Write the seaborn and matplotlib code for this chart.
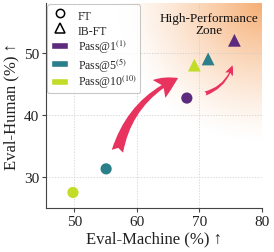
import numpy as np
import pandas as pd
import matplotlib
matplotlib.use("Agg")
import matplotlib.pyplot as plt
import seaborn as sns
from matplotlib.lines import Line2D
from matplotlib.patches import Patch, Rectangle
from matplotlib.legend_handler import HandlerPatch

methods = ["FT", "FT", "FT", "IB-FT", "IB-FT", "IB-FT"]
metrics = ["Pass@1", "Pass@5", "Pass@10", "Pass@1", "Pass@5", "Pass@10"]
eval_machine = [68.0, 55.1, 49.8, 75.6, 71.4, 69.2]
eval_human = [42.7, 31.3, 27.5, 52.0, 49.0, 48.0]
xticks = [50, 60, 70, 80]
yticks = [30, 40, 50]
legend_labels = ["FT", "IB-FT", r"Pass@1$^{(1)}$", r"Pass@5$^{(5)}$", r"Pass@10$^{(10)}$"]

palette = {"Pass@1": "#5D2B7D", "Pass@5": "#2A7F8B", "Pass@10": "#C3DC28"}
arrow_color = "#E8335F"

df = pd.DataFrame({"Method": methods, "Metric": metrics,
                   "Eval-Machine": eval_machine, "Eval-Human": eval_human})

sns.set_theme(style="white")
plt.rcParams["font.family"] = ["Liberation Serif", "DejaVu Serif"]
plt.rcParams["mathtext.fontset"] = "stix"

fig = plt.figure(figsize=(2.74, 2.53), dpi=100)
ax = fig.add_axes([0.168, 0.174, 0.788, 0.81])

xlim = (45.5, 80)
ylim = (25, 58)
ax.set_xlim(*xlim)
ax.set_ylim(*ylim)

# radial orange gradient from top-right corner
nx, ny = 300, 300
gx = np.linspace(0, 1, nx)
gy = np.linspace(0, 1, ny)
GX, GY = np.meshgrid(gx, gy)
dist = np.sqrt(((1 - GX) * 1.0) ** 2 + ((1 - GY) * 1.0) ** 2)
alpha = np.clip(1 - dist / 0.68, 0, 1) ** 1.3 * 0.9
rgba = np.zeros((ny, nx, 4))
rgba[..., 0] = 245 / 255
rgba[..., 1] = 165 / 255
rgba[..., 2] = 100 / 255
rgba[..., 3] = alpha
ax.imshow(rgba, extent=[xlim[0], xlim[1], ylim[0], ylim[1]], origin="lower",
          aspect="auto", zorder=0, interpolation="bilinear")

ax.set_xticks(xticks)
ax.set_yticks(yticks)
ax.grid(True, color="#cccccc", linestyle=(0, (2, 2)), linewidth=0.5, zorder=0.5)
ax.set_axisbelow(True)

sns.scatterplot(data=df[df.Method == "FT"], x="Eval-Machine", y="Eval-Human",
                hue="Metric", palette=palette, marker="o", s=65,
                edgecolor="none", legend=False, ax=ax, zorder=3)
sns.scatterplot(data=df[df.Method == "IB-FT"], x="Eval-Machine", y="Eval-Human",
                hue="Metric", palette=palette, marker="^", s=85,
                edgecolor="none", legend=False, ax=ax, zorder=3)

ax.annotate("", xy=(67.0, 46.1), xytext=(56.8, 33.7),
            arrowprops=dict(arrowstyle="fancy,head_length=0.75,head_width=0.75,tail_width=0.4",
                            connectionstyle="arc3,rad=-0.25", color=arrow_color, lw=0,
                            mutation_scale=21), zorder=2)
ax.annotate("", xy=(75.4, 48.4), xytext=(70.5, 43.3),
            arrowprops=dict(arrowstyle="fancy,head_length=0.7,head_width=0.6,tail_width=0.3",
                            connectionstyle="arc3,rad=0.3", color=arrow_color, lw=0,
                            mutation_scale=10), zorder=2)

ax.text(71.6, 54.7, "High-Performance\nZone", ha="center", va="center",
        fontsize=9.5, linespacing=1.0, color="#111111", zorder=4)

for s in ["top", "right"]:
    ax.spines[s].set_visible(False)
for s in ["left", "bottom"]:
    ax.spines[s].set_color("#444444")
    ax.spines[s].set_linewidth(0.8)
ax.tick_params(axis="both", which="major", length=3, width=0.8, color="#444444",
               labelsize=11, pad=2, left=True, bottom=True)
for lab in ax.get_xticklabels() + ax.get_yticklabels():
    lab.set_color("#222222")

ax.set_xlabel("Eval-Machine (%) ↑", fontsize=12, labelpad=2, color="#222222")
ax.set_ylabel("Eval-Human (%) ↑", fontsize=12, labelpad=3, color="#222222")


def make_rect(legend, orig_handle, xdescent, ydescent, width, height, fontsize):
    h = 0.6 * fontsize
    return Rectangle((-xdescent, -ydescent + (height - h) / 2), width, h)


handles = [
    Line2D([], [], marker="o", linestyle="none", markerfacecolor="white",
           markeredgecolor="black", markersize=6, markeredgewidth=1.1),
    Line2D([], [], marker="^", linestyle="none", markerfacecolor="white",
           markeredgecolor="black", markersize=7, markeredgewidth=1.1),
    Patch(facecolor=palette["Pass@1"]),
    Patch(facecolor=palette["Pass@5"]),
    Patch(facecolor=palette["Pass@10"]),
]
leg = ax.legend(handles, legend_labels, loc="upper left", fontsize=8.5,
                frameon=True, fancybox=True, borderaxespad=0.1,
                handlelength=1.5, handleheight=1.55, handletextpad=0.8,
                labelspacing=0.0, borderpad=0.3,
                handler_map={Patch: HandlerPatch(patch_func=make_rect)})
leg.get_frame().set_edgecolor("#bbbbbb")
leg.get_frame().set_linewidth(0.8)
leg.set_zorder(5)

fig.savefig("out.png", dpi=100)
